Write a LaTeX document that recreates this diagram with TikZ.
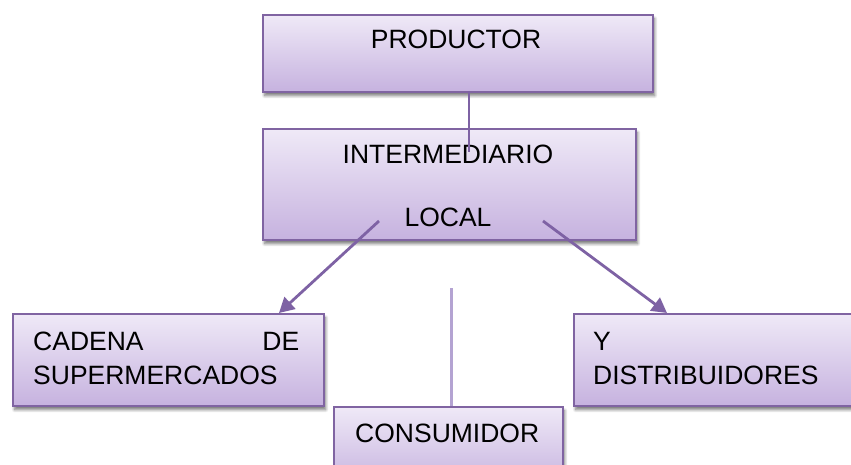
\documentclass[tikz,border=0pt]{standalone}
\usepackage{fontspec}
\setmainfont{Liberation Sans}
\usetikzlibrary{arrows.meta,shadows,shadows.blur}
\definecolor{bordc}{HTML}{8064A2}
\definecolor{topc}{HTML}{EFE9F7}
\definecolor{botc}{HTML}{C6B2DF}
\definecolor{linec}{HTML}{7E62A4}
\definecolor{lightl}{HTML}{B4A3D2}
\tikzset{
  boxstyle/.style={draw=bordc, line width=2.2pt, top color=topc, bottom color=botc,
    rectangle, inner sep=0pt, anchor=north west,
    blur shadow={shadow xshift=1.5pt, shadow yshift=-3.5pt, shadow blur steps=8, shadow opacity=55, shadow blur radius=3pt}},
  txt/.style={font=\fontsize{26.5}{30}\selectfont, inner sep=0pt, text=black},
  conn/.style={draw=linec, line width=2.8pt},
  arr/.style={conn, -{Triangle[length=15pt, width=16pt]}},
}
\begin{document}
\begin{tikzpicture}[x=1pt, y=-1pt]
\useasboundingbox (0,0) rectangle (851,465);
% boxes
\node[boxstyle, minimum width=390pt, minimum height=77pt] (prod) at (262,14) {};
\node[boxstyle, minimum width=373pt, minimum height=111pt] (inter) at (262,128) {};
\node[boxstyle, minimum width=311pt, minimum height=92pt] (cad) at (12,313) {};
\node[boxstyle, minimum width=300pt, minimum height=92pt] (dist) at (573,313) {};
\node[boxstyle, minimum width=229pt, minimum height=80pt] (cons) at (333,406) {};
% texts
\node[txt, anchor=base] (tprod) at (456,49) {PRODUCTOR};
\node[txt, anchor=base] (tinter) at (448,164) {INTERMEDIARIO};
\node[txt, anchor=base] (tlocal) at (448,226) {LOCAL};
\node[txt, anchor=base west, text width=266pt] (tcad1) at (33,350) {CADENA\hfill DE};
\node[txt, anchor=base west] (tcad2) at (33,384) {SUPERMERCADOS};
\node[txt, anchor=base west] (tdist1) at (593,350) {Y};
\node[txt, anchor=base west] (tdist2) at (593,384) {DISTRIBUIDORES};
\node[txt, anchor=base west] (tcons) at (355,442) {CONSUMIDOR};
% connectors
\coordinate (pend) at (469,152);
\coordinate (pstart) at (469,91);
\draw[conn, line width=2.2pt] (pstart) -- (pend);
\coordinate (la) at (379,221);
\coordinate (lb) at (279,313);
\draw[arr] (la) -- (lb);
\coordinate (ra) at (543,221);
\coordinate (rb) at (667,313);
\draw[arr] (ra) -- (rb);
\coordinate (vtop) at (451,288);
\coordinate (vbot) at (451,406);
\draw[draw=lightl, line width=3pt] (vtop) -- (vbot);
\end{tikzpicture}
\end{document}
